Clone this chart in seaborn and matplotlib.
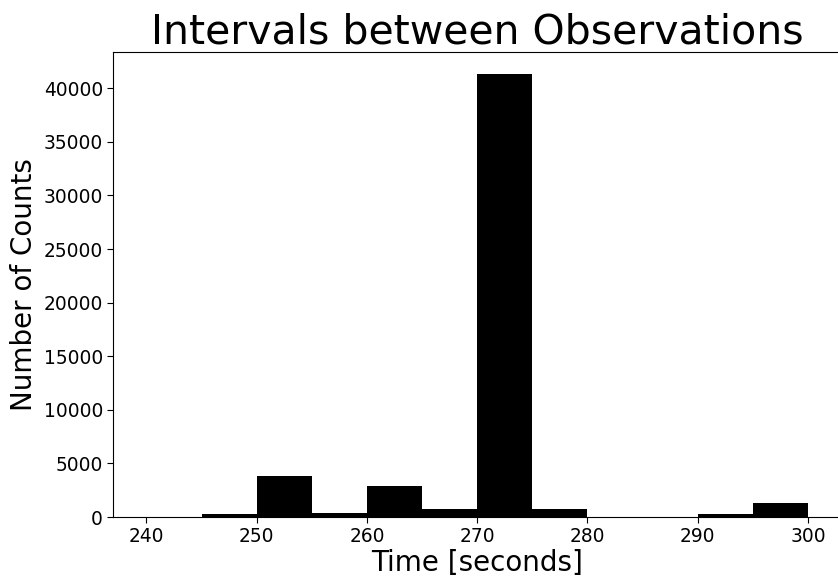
import numpy as np
import pandas as pd
import matplotlib
matplotlib.use("Agg")
import matplotlib.pyplot as plt
import seaborn as sns

bin_edges = [240, 245, 250, 255, 260, 265, 270, 275, 280, 285, 290, 295, 300]
bin_centers = [242.5, 247.5, 252.5, 257.5, 262.5, 267.5, 272.5, 277.5, 282.5, 287.5, 292.5, 297.5]
counts = [0, 250, 3830, 340, 2900, 720, 41300, 720, 0, 0, 250, 1280]
x_ticks = [240, 250, 260, 270, 280, 290, 300]
y_ticks = [0, 5000, 10000, 15000, 20000, 25000, 30000, 35000, 40000]

sns.set_style("ticks")
plt.rcParams['font.family'] = ['DejaVu Sans']
plt.rcParams['text.color'] = 'black'
plt.rcParams['axes.labelcolor'] = 'black'
plt.rcParams['xtick.color'] = 'black'
plt.rcParams['ytick.color'] = 'black'

df = pd.DataFrame({"time": bin_centers, "count": counts})

fig = plt.figure(figsize=(8.38, 5.8), dpi=100)
ax = fig.add_axes([0.1352, 0.1086, 0.8684, 0.8014])
sns.histplot(data=df, x="time", weights="count", bins=bin_edges, color="black",
             alpha=1, edgecolor="none", linewidth=0, ax=ax)
ax.set_xlim(237, 303)
ax.set_xticks(x_ticks)
ax.set_yticks(y_ticks)
ax.tick_params(labelsize=13.4, direction="out", length=4, width=0.8, colors="black")
ax.set_xlabel("Time [seconds]", fontsize=20, color="black", labelpad=2)
ax.set_ylabel("Number of Counts", fontsize=20, color="black")
ax.set_title("Intervals between Observations", fontsize=29.5, color="black")
for s in ax.spines.values():
    s.set_visible(True)
    s.set_linewidth(0.8)
    s.set_color("black")
fig.savefig("out.png", dpi=100)
